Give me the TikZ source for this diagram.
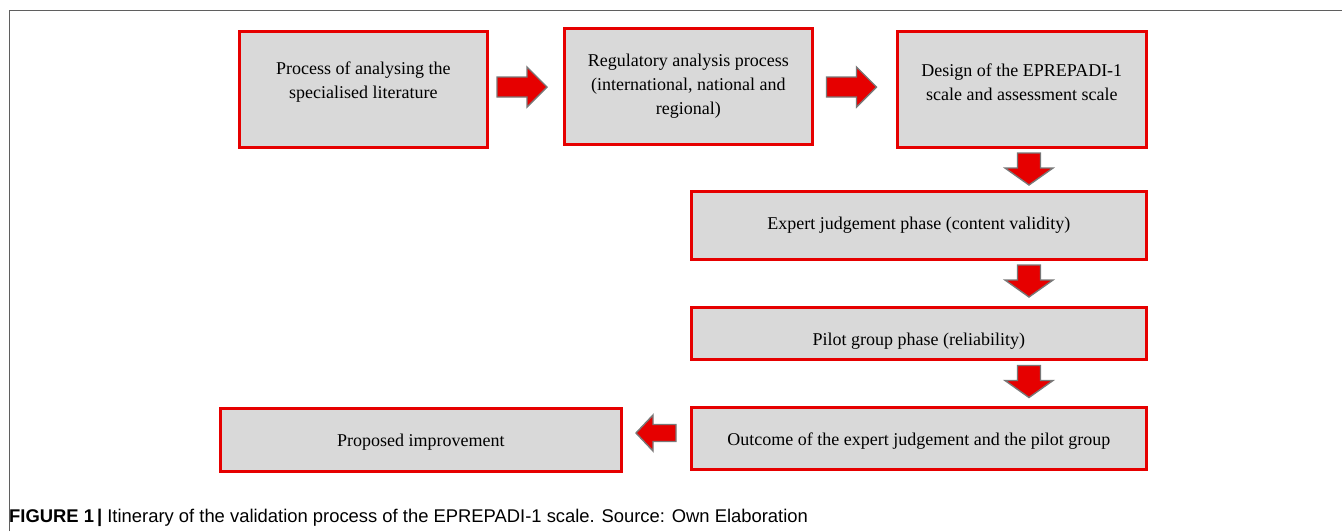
\documentclass[tikz,border=0pt]{standalone}
\usepackage{fontspec}
\setmainfont{Liberation Serif}
\newfontfamily\capfont{Liberation Sans}
\definecolor{boxred}{RGB}{230,0,0}
\definecolor{boxgray}{RGB}{217,217,217}
\definecolor{arrgray}{RGB}{120,120,120}
\definecolor{framegray}{RGB}{95,95,95}
\tikzset{
  stepbox/.style={draw=boxred, line width=2.6pt, fill=boxgray, inner sep=0pt, anchor=north west},
  boxtext/.style={align=center, font=\fontsize{18}{24}\selectfont, inner sep=0pt},
  flowarrow/.style={draw=arrgray, line width=1.4pt, fill=boxred, line join=miter}
}
\newcommand\myRArrow[1]{\draw[flowarrow] ([shift={(-25,-10)}]#1) -- ([shift={(5,-10)}]#1) -- ([shift={(5,-20)}]#1) -- ([shift={(25,0)}]#1) -- ([shift={(5,20)}]#1) -- ([shift={(5,10)}]#1) -- ([shift={(-25,10)}]#1) -- cycle;}
\newcommand\myDArrow[1]{\draw[flowarrow] ([shift={(-11.5,-16)}]#1) -- ([shift={(11.5,-16)}]#1) -- ([shift={(11.5,-1)}]#1) -- ([shift={(24,-1)}]#1) -- ([shift={(0,16)}]#1) -- ([shift={(-24,-1)}]#1) -- ([shift={(-11.5,-1)}]#1) -- cycle;}
\newcommand\myLArrow[1]{\draw[flowarrow] ([shift={(20,-8.5)}]#1) -- ([shift={(-3,-8.5)}]#1) -- ([shift={(-3,-18)}]#1) -- ([shift={(-20,0)}]#1) -- ([shift={(-3,18)}]#1) -- ([shift={(-3,8.5)}]#1) -- ([shift={(20,8.5)}]#1) -- cycle;}
\begin{document}
\begin{tikzpicture}[x=1pt,y=-1pt]
\useasboundingbox (0,0) rectangle (1342,531);
% frame
\draw[framegray, line width=1.6pt] (9.5,531) -- (9.5,10.5) -- (1342,10.5);
% boxes
\node[stepbox, minimum width=248pt, minimum height=116pt] (b1) at (238,30) {};
\node[stepbox, minimum width=248pt, minimum height=116pt] (b2) at (563,27) {};
\node[stepbox, minimum width=249pt, minimum height=116pt] (b3) at (896,30) {};
\node[stepbox, minimum width=455pt, minimum height=68pt] (b4) at (690,190) {};
\node[stepbox, minimum width=455pt, minimum height=52pt] (b5) at (690,306) {};
\node[stepbox, minimum width=455pt, minimum height=62pt] (b6) at (690,406) {};
\node[stepbox, minimum width=401pt, minimum height=63pt] (b7) at (219,407) {};
% texts
\node[boxtext] (t1) at ([yshift=7pt]b1.center) {Process of analysing the\\specialised literature};
\node[boxtext] (t2) at ([yshift=0pt]b2.center) {Regulatory analysis process\\(international, national and\\regional)};
\node[boxtext] (t3) at ([yshift=7pt]b3.center) {Design of the EPREPADI-1\\scale and assessment scale};
\node[boxtext] (t4) at (b4.center) {Expert judgement phase (content validity)};
\node[boxtext] (t5) at ([yshift=-8pt]b5.center) {Pilot group phase (reliability)};
\node[boxtext] (t6) at ([yshift=-3pt]b6.center) {Outcome of the expert judgement and the pilot group};
\node[boxtext] (t7) at ([yshift=-2pt]b7.center) {Proposed improvement};
% arrows
\coordinate (a1) at (522,87);
\coordinate (a2) at (851.5,87);
\coordinate (d1) at (1029,169);
\coordinate (d2) at (1029,281);
\coordinate (d3) at (1029,381.5);
\coordinate (l1) at (656,433);
\myRArrow{a1}
\myRArrow{a2}
\myDArrow{d1}
\myDArrow{d2}
\myDArrow{d3}
\myLArrow{l1}
% caption
\node[anchor=base west, inner sep=0pt, font=\capfont\fontsize{18.4}{20}\selectfont] (cap) at (9,522)
  {\textbf{FIGURE 1}\,\textbf{|} Itinerary of the validation process of the EPREPADI-1 scale. Source: Own Elaboration};
\end{tikzpicture}
\end{document}
